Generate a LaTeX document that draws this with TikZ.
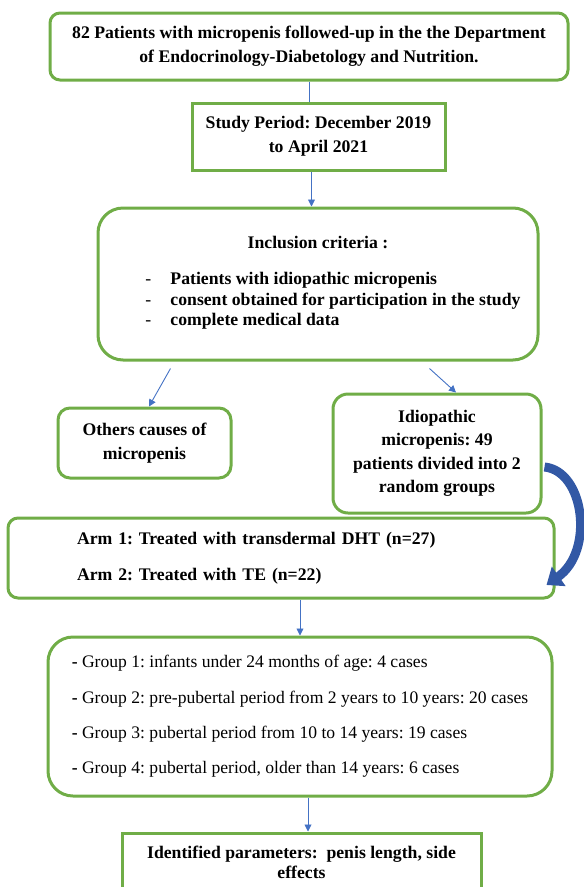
\documentclass[tikz,border=0pt]{standalone}
\usepackage{fontspec}
\setmainfont{Liberation Serif}
\usetikzlibrary{arrows.meta, positioning, calc}
\definecolor{mygreen}{RGB}{112,173,71}
\definecolor{myblue}{RGB}{68,114,196}
\definecolor{mynavy}{RGB}{50,88,165}
\frenchspacing
\tikzset{
  rbox/.style={rectangle, draw=mygreen, line width=3pt, rounded corners=#1,
    align=center, inner sep=0pt, font=\fontsize{17.7}{23.5}\selectfont\bfseries},
  rbox/.default=10pt,
  sbox/.style={rectangle, draw=mygreen, line width=3pt,
    align=center, inner sep=0pt, font=\fontsize{17.7}{24}\selectfont\bfseries},
  arrow/.style={-{Triangle[length=7pt,width=7pt]}, line width=0.9pt, color=myblue},
  line/.style={line width=0.9pt, color=myblue},
  bigarrow/.style={-{Triangle[length=15pt,width=23pt]}, line width=9pt, color=mynavy}
}
\begin{document}
\begin{tikzpicture}[x=1pt, y=-1pt]
  \useasboundingbox (0,0) rectangle (584,887);

  % ── Top: population and study period ─────────────────────────────────────
  \node[rbox=10pt, minimum width=518pt, minimum height=67pt,
        font=\fontsize{17.7}{24}\selectfont\bfseries] (patients) at (309,46.5)
    {82 Patients with micropenis followed-up in the the Department\\
     of Endocrinology-Diabetology and Nutrition.};
  \node[sbox, minimum width=253pt, minimum height=67pt] (period) at (318.5,136.5)
    {Study Period: December 2019\\to April 2021};

  % ── Inclusion criteria ────────────────────────────────────────────────────
  \node[rbox=25pt, minimum width=440pt, minimum height=152pt,
        font=\fontsize{17.7}{20.5}\selectfont\bfseries] (incl) at (318,284)
    {Inclusion criteria :\\[15.5pt]
     \hspace*{30pt}\begin{tabular}[t]{@{}p{25pt}@{}l@{}}
       \textnormal{-} & Patients with idiopathic micropenis\\
       \textnormal{-} & consent obtained for participation in the study\\
       \textnormal{-} & complete medical data
     \end{tabular}};

  % ── Split ─────────────────────────────────────────────────────────────────
  \node[rbox=12pt, minimum width=173pt, minimum height=70pt] (others) at (144.5,443)
    {Others causes of\\micropenis};
  \node[rbox=15pt, minimum width=208pt, minimum height=119pt] (idio) at (437,453.5)
    {Idiopathic\\micropenis: 49\\patients divided into 2\\random groups};

  % ── Treatment arms ────────────────────────────────────────────────────────
  \node[rbox=10pt, minimum width=546pt, minimum height=80pt,
        text width=408pt, align=left] (arms) at (281,558)
    {Arm 1: Treated with transdermal DHT (n=27)\\[12pt]
     Arm 2: Treated with TE (n=22)};

  % ── Age groups ────────────────────────────────────────────────────────────
  \node[rbox=25pt, minimum width=504pt, minimum height=159pt,
        align=left, font=\fontsize{17.6}{20}\selectfont] (groups) at (300,716.5)
    {\textbf{-} Group 1: infants under 24 months of age: 4 cases\\[15.3pt]
     \textbf{-} Group 2: pre-pubertal period from 2 years to 10 years: 20 cases\\[15.3pt]
     \textbf{-} Group 3: pubertal period from 10 to 14 years: 19 cases\\[15.3pt]
     \textbf{-} Group 4: pubertal period, older than 14 years: 6 cases};

  % ── Outcome ───────────────────────────────────────────────────────────────
  \node[sbox, minimum width=359pt, minimum height=58pt,
        font=\fontsize{17.7}{20}\selectfont\bfseries] (params) at (301.5,862)
    {Identified parameters:\ \ penis length, side\\effects};

  % ── Connections ───────────────────────────────────────────────────────────
  \coordinate (gout) at ([xshift=8pt]groups.south);
  \draw[line]  (patients.south) -- (patients.south |- period.north);
  \draw[arrow] ([xshift=-7pt]period.south) -- ([xshift=-7pt]period.south |- incl.north);
  \draw[arrow] ([xshift=74pt,yshift=-7pt]incl.south west) -- ([xshift=4.5pt]others.north);
  \draw[arrow] ([xshift=333pt,yshift=-7pt]incl.south west) -- ([xshift=19pt]idio.north);
  \draw[arrow] (groups.north |- arms.south) -- (groups.north);
  \draw[arrow] (gout) -- (gout |- params.north);

  % ── Curved arrow: random groups to arms ───────────────────────────────────
  \draw[bigarrow] ([xshift=2pt,yshift=-13.5pt]idio.east)
    .. controls +(40,4) and +(48,-34) .. ([xshift=-9pt,yshift=-27pt]arms.east);

\end{tikzpicture}
\end{document}
